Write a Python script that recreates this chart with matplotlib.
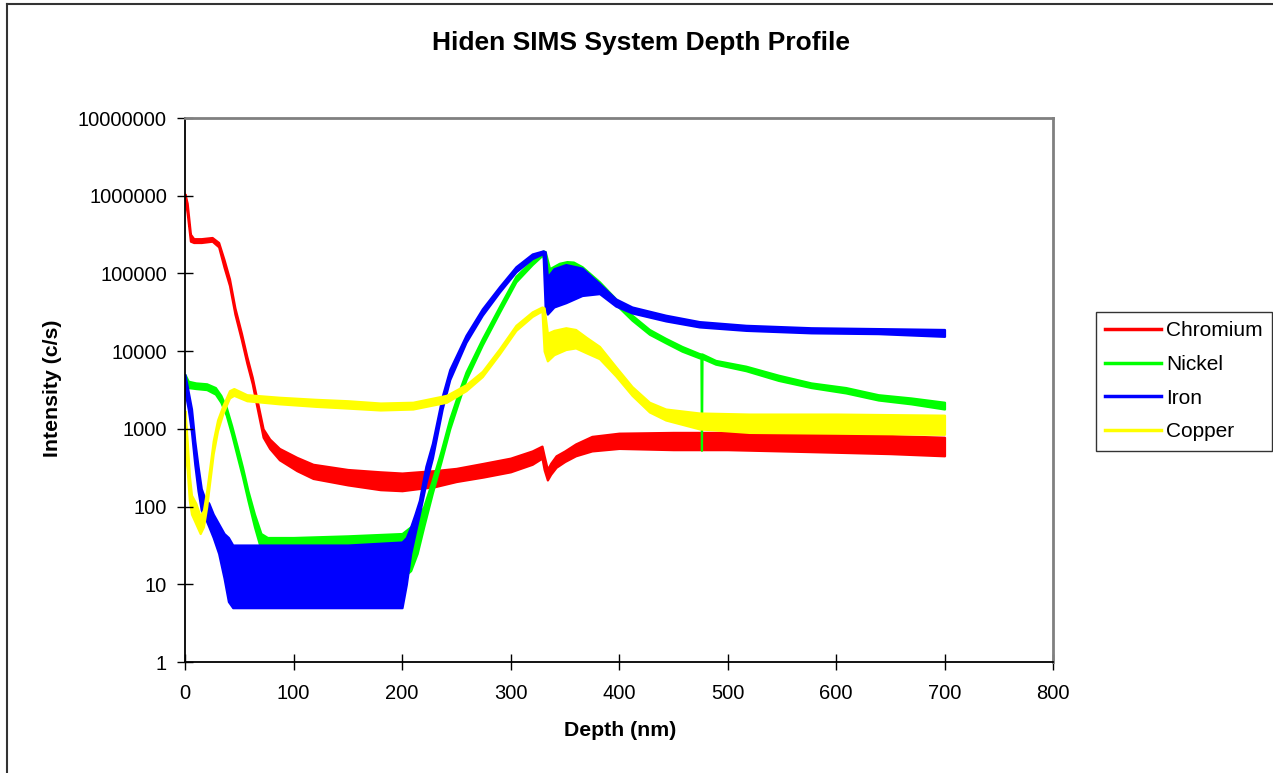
import matplotlib
matplotlib.use('Agg')
import matplotlib.pyplot as plt
from matplotlib.lines import Line2D
from matplotlib.ticker import NullLocator

# values; noisy traces kept as low/high envelopes
cr_depth = [0, 2, 5, 8, 15, 25, 31, 36, 41, 46, 52, 57, 62, 66, 72, 78, 87, 103, 118, 150,
            180, 200, 215, 230, 250, 275, 300, 320, 329, 331, 334, 337, 342, 350, 360, 375,
            400, 450, 500, 550, 600, 650, 700]
cr_lo = [9.0e5, 6e5, 2.6e5, 2.5e5, 2.5e5, 2.6e5, 2.2e5, 1.2e5, 7e4, 3.0e4, 1.4e4, 7.0e3, 3.8e3,
         2.0e3, 780, 560, 400, 290, 230, 190, 165, 160, 170, 180, 210, 240, 280, 350, 420, 300,
         220, 260, 320, 380, 450, 520, 560, 540, 540, 520, 500, 480, 450]
cr_hi = [1.05e6, 8e5, 3.2e5, 2.8e5, 2.8e5, 2.9e5, 2.5e5, 1.5e5, 8.5e4, 3.6e4, 1.7e4, 8.5e3, 4.6e3,
         2.5e3, 1000, 740, 560, 430, 350, 300, 280, 270, 280, 290, 310, 360, 420, 520, 600, 450,
         300, 360, 450, 520, 640, 800, 880, 900, 900, 880, 860, 820, 780]

ni_depth = [0, 3, 10, 20, 28, 33, 38, 43, 48, 53, 58, 64, 70, 76, 100, 150, 200, 208, 214, 220,
            228, 236, 244, 252, 259, 274, 290, 305, 320, 330, 332, 336, 345, 352, 358, 366, 382,
            397, 412, 428, 443, 458, 474, 475.5, 476, 476.5, 489, 517, 547, 577, 609, 639, 669, 700]
ni_lo = [4000, 3400, 3300, 3200, 2800, 2200, 1500, 850, 450, 240, 120, 55, 28, 14, 10, 10, 12, 15,
         25, 55, 150, 380, 1000, 2200, 4300, 12000, 32000, 78000, 130000, 175000, 100000, 100000,
         118000, 128000, 125000, 108000, 68000, 40000, 25000, 16500, 12800, 10000, 8200, 8100, 530,
         8100, 6800, 5600, 4200, 3400, 2900, 2350, 2100, 1800]
ni_hi = [5000, 4100, 3900, 3800, 3400, 2700, 1900, 1100, 600, 320, 160, 80, 45, 40, 40, 42, 45, 55,
         70, 100, 220, 520, 1350, 2900, 5400, 14500, 38000, 92000, 148000, 195000, 190000, 115000,
         135000, 142000, 140000, 122000, 78000, 47000, 29000, 19000, 14600, 11500, 9300, 9200, 9200,
         9200, 7600, 6400, 4900, 3900, 3400, 2750, 2500, 2200]

fe_depth = [0, 3, 6, 9, 12, 15, 18, 22, 26, 31, 36, 40, 44, 100, 150, 200, 204, 208, 212, 216,
            222, 228, 237, 244, 259, 274, 290, 305, 320, 330, 332, 334, 340, 351, 366, 382, 397,
            412, 443, 474, 517, 577, 639, 700]
fe_lo = [3000, 1800, 900, 350, 160, 90, 75, 55, 40, 25, 12, 6, 5, 5, 5, 5, 10, 25, 45, 80, 200,
         420, 1800, 4300, 13000, 29000, 58000, 105000, 155000, 180000, 35000, 30000, 37000, 42000,
         52000, 55000, 38000, 31000, 24500, 20500, 18500, 17200, 16800, 15500]
fe_hi = [5000, 3000, 1800, 700, 330, 170, 130, 110, 80, 60, 45, 40, 32, 32, 32, 35, 40, 55, 80,
         120, 330, 650, 2600, 5800, 16000, 35000, 68000, 122000, 178000, 195000, 190000, 90000,
         115000, 130000, 117000, 74000, 47000, 37000, 29000, 24000, 21500, 20000, 19500, 19000]

cu_depth = [0, 2, 4, 6, 10, 14, 17, 20, 23, 26, 30, 35, 41, 45, 57, 87, 120, 150, 180, 210, 241,
            259, 274, 290, 305, 320, 329, 331, 334, 340, 351, 360, 370, 382, 397, 412, 428, 443,
            474, 520, 600, 700]
cu_lo = [500, 300, 120, 80, 60, 45, 55, 100, 220, 480, 950, 1600, 2500, 2700, 2300, 2100, 1950,
         1850, 1750, 1800, 2200, 3100, 4700, 9300, 18500, 28000, 33000, 10000, 7500, 9000, 10500,
         11000, 9500, 8000, 4800, 2700, 1650, 1300, 1000, 900, 880, 850]
cu_hi = [1700, 700, 250, 140, 110, 75, 90, 160, 330, 700, 1300, 2000, 3100, 3300, 2750, 2550, 2400,
         2300, 2150, 2200, 2700, 3700, 5500, 10800, 21500, 32000, 37000, 36000, 17000, 18500, 20000,
         19000, 15000, 11500, 6300, 3500, 2200, 1800, 1600, 1550, 1550, 1500]

names = ["Chromium", "Nickel", "Iron", "Copper"]
colors = ["#ff0000", "#00ff00", "#0000ff", "#ffff00"]
y_ticks = [1, 10, 100, 1000, 10000, 100000, 1000000, 10000000]

plt.rcParams['font.family'] = ['Liberation Sans', 'DejaVu Sans']

W, H = 1273, 773
fig = plt.figure(figsize=(W / 100, H / 100), dpi=100)
ax = fig.add_axes([185 / W, 1 - 662 / H, 868 / W, 544 / H])

data = [(cr_depth, cr_lo, cr_hi), (ni_depth, ni_lo, ni_hi),
        (fe_depth, fe_lo, fe_hi), (cu_depth, cu_lo, cu_hi)]
for (d, lo, hi), c in zip(data, colors):
    ax.fill_between(d, lo, hi, color=c, lw=1.6)

ax.set_yscale('log')
ax.set_ylim(1, 1e7)
ax.set_xlim(0, 800)
ax.set_xticks(range(0, 801, 100))
ax.set_yticks(y_ticks)
ax.set_yticklabels([str(v) for v in y_ticks])
ax.yaxis.set_minor_locator(NullLocator())
ax.tick_params(direction='inout', length=12, width=1, labelsize=14.5)
ax.tick_params(axis='x', pad=10)
ax.tick_params(axis='y', pad=7)

for s in ['top', 'right']:
    ax.spines[s].set_color('#808080')
    ax.spines[s].set_linewidth(2)
for s in ['left', 'bottom']:
    ax.spines[s].set_color('black')
    ax.spines[s].set_linewidth(1.3)

fig.text(641 / W, 1 - 43 / H, "Hiden SIMS System Depth Profile",
         ha='center', va='center', fontsize=19, fontweight='bold')
fig.text(620 / W, 1 - 731 / H, "Depth (nm)", ha='center', va='center',
         fontsize=15.3, fontweight='bold')
fig.text(53 / W, 1 - 388 / H, "Intensity (c/s)", ha='center', va='center',
         rotation=90, fontsize=15.3, fontweight='bold')

handles = [Line2D([], [], color=c, lw=2.5) for c in colors]
leg = fig.legend(handles, names, loc='upper left', bbox_to_anchor=(1096 / W, 1 - 312 / H),
                 frameon=True, fancybox=False, edgecolor='black', fontsize=15,
                 handlelength=2.65, handletextpad=0.25, labelspacing=0.7,
                 borderpad=0.45, borderaxespad=0)
leg.get_frame().set_linewidth(1)

# outer chart frame (only left and top edges are visible in the reference)
fig.add_artist(Line2D([7 / W, 7 / W], [0, 1 - 4 / H], transform=fig.transFigure,
                      color='#333333', lw=1.5))
fig.add_artist(Line2D([7 / W, 1], [1 - 4 / H, 1 - 4 / H], transform=fig.transFigure,
                      color='#333333', lw=1.5))

fig.savefig('out.png', dpi=100)
